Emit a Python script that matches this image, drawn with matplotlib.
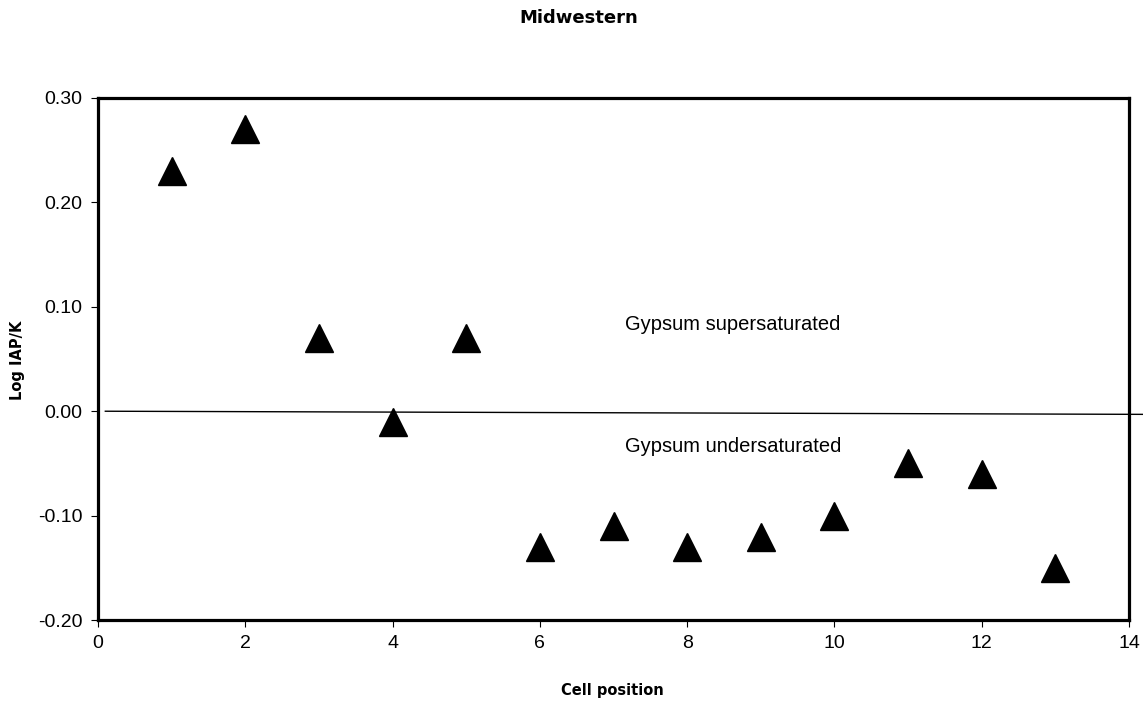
import matplotlib
matplotlib.use("Agg")
from matplotlib import pyplot as plt

plt.rcParams['font.family'] = ['Liberation Sans', 'DejaVu Sans']

cell = [1, 2, 3, 4, 5, 6, 7, 8, 9, 10, 11, 12, 13]
log_iapk = [0.23, 0.27, 0.07, -0.01, 0.07, -0.13, -0.11, -0.13, -0.12, -0.10, -0.05, -0.06, -0.15]
line_x = [0.1, 14.2]
line_y = [0.0, -0.003]

fig = plt.figure(figsize=(11.43, 7.03), dpi=100)
ax = fig.add_axes([0.0857, 0.118, 0.9021, 0.7426])

ax.plot(line_x, line_y, color='black', lw=1.0, clip_on=False, zorder=2)
ax.plot(cell, log_iapk, linestyle='none', marker='^', markersize=20,
        color='black', zorder=3)

ax.text(8.62, 0.083, "Gypsum supersaturated", ha='center', va='center', fontsize=14.5)
ax.text(8.62, -0.034, "Gypsum undersaturated", ha='center', va='center', fontsize=14.5)

ax.set_xlim(0, 14)
ax.set_ylim(-0.20, 0.30)
ax.set_xticks(range(0, 15, 2))
ax.set_yticks([-0.20, -0.10, 0.00, 0.10, 0.20, 0.30])
ax.set_yticklabels(["%.2f" % v for v in [-0.20, -0.10, 0.00, 0.10, 0.20, 0.30]])
ax.tick_params(direction='out', length=5, width=0.8, labelsize=14, pad=6)
for s in ax.spines.values():
    s.set_linewidth(2.3)

bold = dict(family='DejaVu Sans', fontweight='bold')
fig.text(0.5066, 0.974, "Midwestern", ha='center', va='center', fontsize=13, **bold)
fig.text(0.5354, 0.018, "Cell position", ha='center', va='center', fontsize=10.5, **bold)
fig.text(0.015, 0.488, "Log IAP/K", ha='center', va='center', rotation=90, fontsize=10.5, **bold)

plt.savefig("out.png", dpi=100)
